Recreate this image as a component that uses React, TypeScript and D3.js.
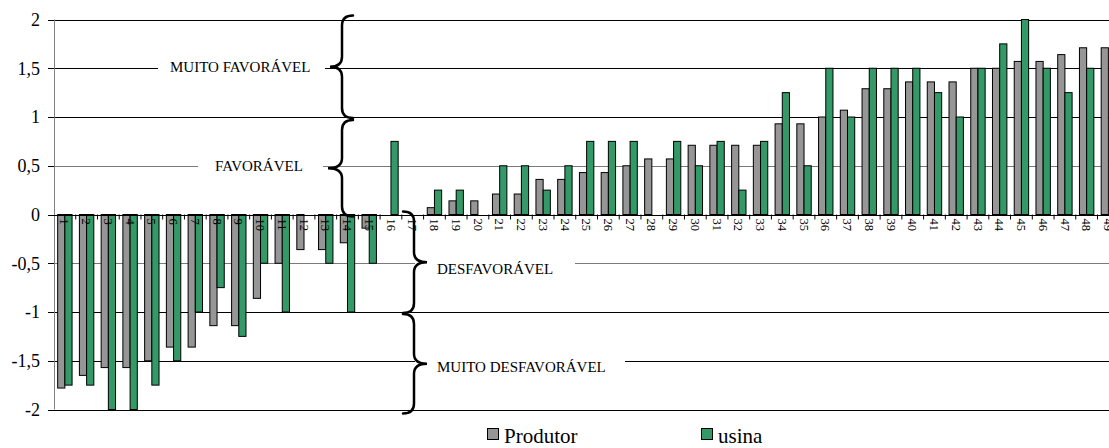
import React from "react";
import * as d3 from "d3";

const categories = ["1","2","3","4","5","6","7","8","9","10","11","12","13","14","15","16","17","18","19","20","21","22","23","24","25","26","27","28","29","30","31","32","33","34","35","36","37","38","39","40","41","42","43","44","45","46","47","48","49"];
const produtor: (number | null)[] = [-1.78,-1.65,-1.57,-1.57,-1.5,-1.36,-1.36,-1.14,-1.14,-0.86,-0.5,-0.36,-0.36,-0.29,-0.14,0,0,0.07,0.14,0.14,0.21,0.21,0.36,0.36,0.43,0.43,0.5,0.57,0.57,0.71,0.71,0.71,0.71,0.93,0.93,1.0,1.07,1.29,1.29,1.36,1.36,1.36,1.5,1.5,1.57,1.57,1.64,1.71,1.71];
const usina: (number | null)[] = [-1.75,-1.75,-2,-2,-1.75,-1.5,-1,-0.75,-1.25,-0.5,-1,0,-0.5,-1,-0.5,0.75,0,0.25,0.25,0,0.5,0.5,0.25,0.5,0.75,0.75,0.75,0,0.75,0.5,0.75,0.25,0.75,1.25,0.5,1.5,1,1.5,1.5,1.5,1.25,1,1.5,1.75,2,1.5,1.25,1.5,null];
const yTicks = [2, 1.5, 1, 0.5, 0, -0.5, -1, -1.5, -2];
const seriesNames = ["Produtor", "usina"];
const seriesColors = ["#969696", "#339966"];

const W = 1109, H = 448;
const FONT = '"Liberation Serif", "DejaVu Serif", serif';

export default function App() {
  const x0 = 54;
  const band = 21.74;
  const x = d3.scaleBand<string>().domain(categories).range([x0, x0 + band * categories.length]).paddingInner(0).paddingOuter(0);
  const y = d3.scaleLinear().domain([-2, 2]).range([409.5, 19.5]);
  const barW = 7.2;
  const fmt = (v: number) => String(v).replace(".", ",");

  const series = [produtor, usina];

  const leftBrace = (xh: number, xs: number, xt: number, y0: number, y1: number, r: number) => {
    const ym = (y0 + y1) / 2;
    return `M${xh},${y0} Q${xs},${y0} ${xs},${y0 + r} L${xs},${ym - r} Q${xs},${ym} ${xt},${ym} Q${xs},${ym} ${xs},${ym + r} L${xs},${y1 - r} Q${xs},${y1} ${xh},${y1}`;
  };

  const gridColor = (v: number) => (Math.abs(v) === 0.5 ? "#7a7a7a" : "#000");

  return (
    <svg width={W} height={H} style={{ position: "absolute", left: 0, top: 0, background: "#fff", fontFamily: FONT }}>
      <rect x={0} y={0} width={W} height={H} fill="#fff" />
      {yTicks.filter(v => v !== 0).map(v => (
        <line key={"g" + v} x1={x0} x2={W} y1={Math.round(y(v)) + 0.5} y2={Math.round(y(v)) + 0.5} stroke={gridColor(v)} strokeWidth={1} />
      ))}
      {series.map((s, si) =>
        s.map((v, i) => {
          if (v === null || v === 0) return null;
          const cx = (x(categories[i]) as number) + band / 2;
          const bx = si === 0 ? cx - barW : cx;
          const y1 = y(Math.max(0, v));
          const y2 = y(Math.min(0, v));
          return <rect key={si + "-" + i} x={bx} y={y1} width={barW} height={y2 - y1} fill={seriesColors[si]} stroke="#000" strokeWidth={1} />;
        })
      )}
      <line x1={x0 + 0.5} x2={x0 + 0.5} y1={y(2)} y2={y(-2)} stroke="#808080" strokeWidth={1} />
      {yTicks.map(v => (
        <g key={"t" + v}>
          <line x1={x0 - 6} x2={x0} y1={Math.round(y(v)) + 0.5} y2={Math.round(y(v)) + 0.5} stroke="#000" />
          <text x={40} y={y(v)} dy="0.35em" textAnchor="end" fontSize={18} fill="#000" fontFamily={FONT}>{fmt(v)}</text>
        </g>
      ))}
      <line x1={x0} x2={W} y1={Math.round(y(0)) + 0.5} y2={Math.round(y(0)) + 0.5} stroke="#000" strokeWidth={1} />
      {categories.map((c) => {
        const bx = x(c) as number;
        const cx = bx + band / 2;
        return (
          <g key={"c" + c}>
            <line x1={bx + band} x2={bx + band} y1={y(0)} y2={y(0) + 5} stroke="#000" />
            <text transform={`translate(${cx},${y(0) + 4}) rotate(90)`} dy="0.35em" fontSize={12.5} fill="#000" fontFamily={FONT}>{c}</text>
          </g>
        );
      })}
      <rect x={158} y={y(1.5) - 9} width={167} height={16} fill="#fff" />
      <text x={170} y={y(1.5) + 4} fontSize={15} fill="#000" fontFamily={FONT}>MUITO FAVORÁVEL</text>
      <rect x={198} y={y(0.5) - 9} width={125} height={16} fill="#fff" />
      <text x={215} y={y(0.5) + 5} fontSize={15} fill="#000" fontFamily={FONT}>FAVORÁVEL</text>
      <rect x={415} y={y(-0.5) - 3} width={160} height={18} fill="#fff" />
      <text x={437} y={y(-0.5) + 11} fontSize={15} fill="#000" fontFamily={FONT}>DESFAVORÁVEL</text>
      <rect x={415} y={y(-1.5) - 3} width={210} height={18} fill="#fff" />
      <text x={437} y={y(-1.5) + 11} fontSize={15} fill="#000" fontFamily={FONT}>MUITO DESFAVORÁVEL</text>
      <g fill="none" stroke="#000" strokeWidth={2.5} strokeLinecap="round">
        <path d={leftBrace(353, 342, 330, y(2) - 4, y(1) + 1, 10)} />
        <path d={leftBrace(353, 342, 328, y(1) + 3, y(0) + 2, 10)} />
        <path d={leftBrace(403, 414, 427, y(0) - 3, y(-1) + 1, 10)} />
        <path d={leftBrace(403, 414, 427, y(-1) + 2, y(-2) + 4, 10)} />
      </g>
      {seriesNames.map((n, i) => {
        const lx = i === 0 ? 487 : 701;
        return (
          <g key={"l" + n}>
            <rect x={lx + 0.5} y={428.5} width={11} height={11} fill={seriesColors[i]} stroke="#000" strokeWidth={1} />
            <text x={lx + 17} y={443} fontSize={21} fill="#000" fontFamily={FONT}>{n}</text>
          </g>
        );
      })}
    </svg>
  );
}
